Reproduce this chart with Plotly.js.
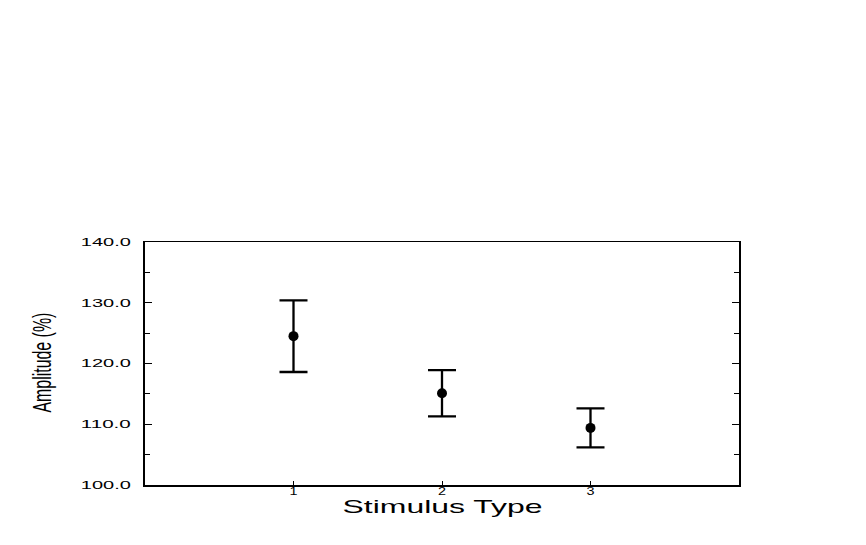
<!DOCTYPE html>
<html>
<head>
<meta charset="utf-8">
<script src="https://cdn.plot.ly/plotly-3.0.1.min.js"></script>
<style>
  html, body { margin: 0; padding: 0; background: #fff; }
  #chart { width: 866px; height: 545px; }
</style>
</head>
<body>
<div id="chart"></div>
<script>
// values
var stimulusTypes = [1, 2, 3];
var amplitudeMeans = [124.5, 115.1, 109.4];
var amplitudeErrors = [5.9, 3.8, 3.2];
var yTickValues = [100, 110, 120, 130, 140];
var yTickLabels = ['100.0', '110.0', '120.0', '130.0', '140.0'];
var xTickValues = [1, 2, 3];

var trace = {
  x: stimulusTypes,
  y: amplitudeMeans,
  mode: 'markers',
  type: 'scatter',
  marker: { color: '#000', size: 10 },
  error_y: {
    type: 'data',
    array: amplitudeErrors,
    visible: true,
    color: '#000',
    thickness: 2.3,
    width: 14
  },
  showlegend: false
};

var layout = {
  width: 866,
  height: 545,
  margin: { l: 145, r: 127, t: 242, b: 60 },
  paper_bgcolor: '#fff',
  plot_bgcolor: '#fff',
  font: { family: 'Liberation Sans, Arial, sans-serif', color: '#000' },
  xaxis: {
    range: [0, 4],
    tickvals: xTickValues,
    ticktext: xTickValues.map(String),
    ticks: 'inside',
    ticklen: 4,
    tickcolor: '#000',
    showgrid: false,
    zeroline: false,
    showline: true,
    linecolor: '#000',
    linewidth: 1.5,
    mirror: true,
    tickfont: { size: 10 },
    ticklabelstandoff: -4
  },
  yaxis: {
    range: [100, 140],
    tickvals: yTickValues,
    ticktext: yTickLabels,
    ticks: 'inside',
    ticklen: 7,
    tickcolor: '#000',
    minor: { ticks: 'inside', ticklen: 5, dtick: 5, tickcolor: '#000' },
    showgrid: false,
    zeroline: false,
    showline: true,
    linecolor: '#000',
    linewidth: 2,
    mirror: 'ticks',
    tickfont: { size: 11 },
    ticklabelstandoff: 10
  },
  annotations: [
    {
      text: 'Stimulus Type',
      xref: 'paper', yref: 'paper',
      x: 0.5, y: -0.09,
      xanchor: 'center', yanchor: 'middle',
      showarrow: false,
      font: { size: 19 }
    },
    {
      text: 'Amplitude (%)',
      xref: 'paper', yref: 'paper',
      x: -0.173, y: 0.502,
      xanchor: 'center', yanchor: 'middle',
      textangle: -90,
      showarrow: false,
      font: { size: 26 }
    }
  ]
};

// the original figure uses stretched (ticks, x title) and condensed (y title) type
function stretchText(el, len) {
  el.setAttribute('textLength', len);
  el.setAttribute('lengthAdjust', 'spacingAndGlyphs');
}

Plotly.newPlot('chart', [trace], layout, { displayModeBar: false, staticPlot: true }).then(function (gd) {
  gd.querySelectorAll('.ytick text').forEach(function (t) { stretchText(t, 50); });
  gd.querySelectorAll('.xtick text').forEach(function (t) { stretchText(t, 8); });
  gd.querySelectorAll('.annotation-text').forEach(function (t) {
    if (t.textContent === 'Stimulus Type') stretchText(t, 200);
    if (t.textContent === 'Amplitude (%)') stretchText(t, 100);
  });
});
</script>
</body>
</html>
